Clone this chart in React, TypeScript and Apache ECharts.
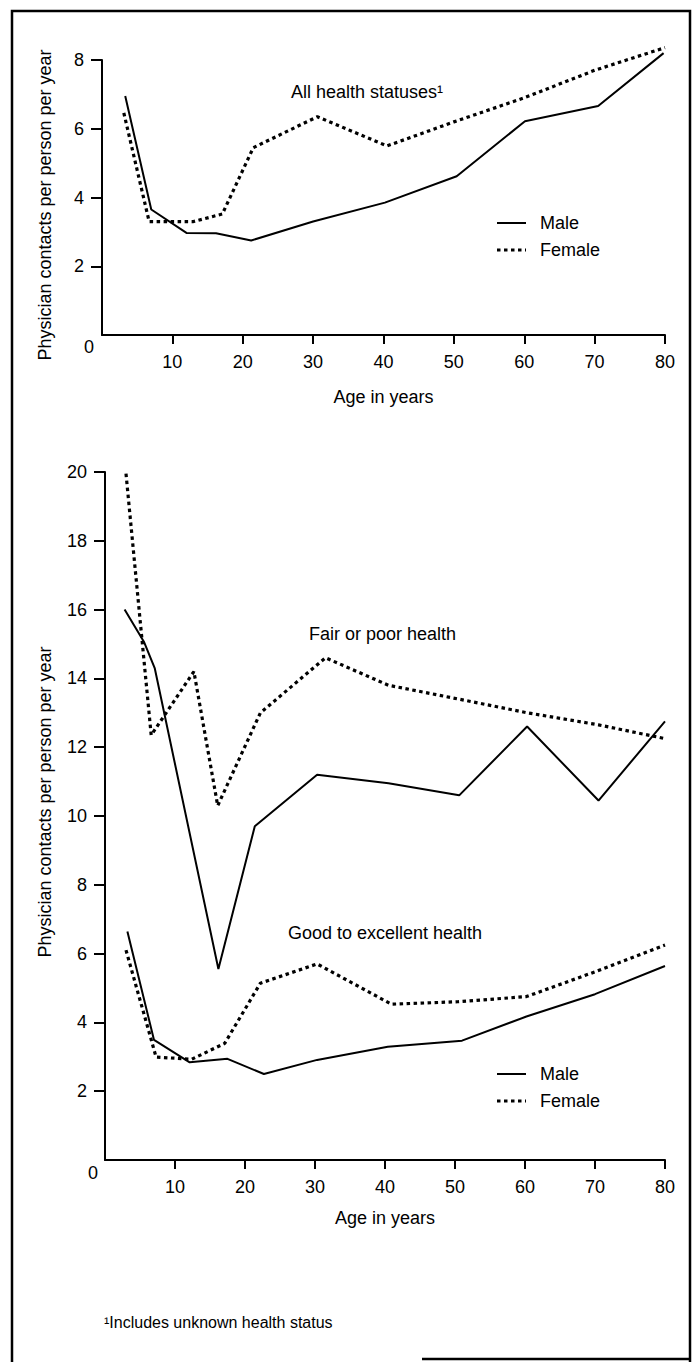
import React, { useEffect, useRef } from "react";
import * as echarts from "echarts";

const FONT = "'Liberation Sans', Arial, Helvetica, sans-serif";

// Tick labels
const xTicks = [10, 20, 30, 40, 50, 60, 70, 80];
const yTicksTop = [2, 4, 6, 8];
const yTicksBottom = [2, 4, 6, 8, 10, 12, 14, 16, 18, 20];
const legendNames = ["Male", "Female"];

// All health statuses
const allMaleAges = [3.3, 7, 12, 16.2, 21.2, 30, 40.2, 50.4, 60.1, 70.5, 79.8];
const allMaleValues = [6.95, 3.65, 2.97, 2.96, 2.75, 3.3, 3.85, 4.62, 6.22, 6.66, 8.2];
const allFemaleAges = [3.1, 6.7, 13, 17.1, 21.5, 30.6, 40.5, 50, 60, 70, 80];
const allFemaleValues = [6.46, 3.3, 3.3, 3.52, 5.45, 6.35, 5.5, 6.2, 6.9, 7.7, 8.36];

// Fair or poor health
const fairMaleAges = [2.8, 5.6, 7.1, 16.2, 21.4, 30.3, 40.5, 50.6, 60.3, 70.5, 80];
const fairMaleValues = [16.0, 15.05, 14.3, 5.55, 9.7, 11.2, 10.95, 10.6, 12.6, 10.45, 12.75];
const fairFemaleAges = [3.0, 6.6, 12.7, 16.1, 22.2, 31.5, 40.5, 50.5, 60.3, 70.5, 80];
const fairFemaleValues = [19.95, 12.35, 14.2, 10.3, 13.0, 14.6, 13.8, 13.4, 13.0, 12.65, 12.25];

// Good to excellent health
const goodMaleAges = [3.2, 7.0, 12.1, 17.5, 22.7, 30.3, 40.4, 51.0, 60.2, 70, 80];
const goodMaleValues = [6.64, 3.49, 2.84, 2.94, 2.5, 2.91, 3.29, 3.47, 4.17, 4.82, 5.64];
const goodFemaleAges = [3.0, 7.3, 12.4, 17.1, 22.2, 30.3, 40.9, 50.4, 60.2, 70, 80];
const goodFemaleValues = [6.1, 2.99, 2.93, 3.39, 5.14, 5.7, 4.53, 4.6, 4.75, 5.47, 6.25];

const pairs = (a: number[], v: number[]) => a.map((x, i) => [x, v[i]]);

const solid = { color: "#000", width: 2, type: "solid" as const };
const dotted = { color: "#000", width: 3.2, type: [3.5, 3.5] as any };

function lineSeries(name: string, data: number[][], idx: number, style: any) {
  return {
    type: "line",
    name,
    xAxisIndex: idx,
    yAxisIndex: idx,
    data,
    symbol: "none",
    showSymbol: false,
    clip: false,
    lineStyle: style,
    itemStyle: { color: "#000" },
    silent: true,
  };
}

function xAxis(gridIndex: number, nameGap: number) {
  return {
    type: "value",
    gridIndex,
    min: 0,
    max: 80,
    interval: 10,
    axisLine: { show: true, onZero: false, lineStyle: { color: "#000", width: 2 } },
    axisTick: { show: true, customValues: xTicks, length: 9, lineStyle: { color: "#000", width: 2 } },
    axisLabel: { customValues: xTicks, margin: 18, fontSize: 18, color: "#000", fontFamily: FONT },
    splitLine: { show: false },
    name: "Age in years",
    nameLocation: "middle",
    nameGap,
    nameTextStyle: { fontSize: 18, color: "#000", fontFamily: FONT },
  };
}

function yAxis(gridIndex: number, max: number, ticks: number[]) {
  return {
    type: "value",
    gridIndex,
    min: 0,
    max,
    interval: 2,
    axisLine: { show: true, onZero: false, lineStyle: { color: "#000", width: 2 } },
    axisTick: { show: true, customValues: ticks, length: 11, lineStyle: { color: "#000", width: 2 } },
    axisLabel: { customValues: ticks, margin: 18, fontSize: 18, color: "#000", fontFamily: FONT },
    splitLine: { show: false },
  };
}

const txt = (text: string, x: number, y: number, extra: any = {}) => ({
  type: "text",
  x,
  y,
  silent: true,
  style: {
    text,
    fill: "#000",
    font: `18px ${FONT}`,
    textAlign: "left",
    textVerticalAlign: "middle",
    ...extra,
  },
});

function legendGraphics(y: number) {
  return [
    {
      type: "line",
      silent: true,
      shape: { x1: 497, y1: y, x2: 526, y2: y },
      style: { stroke: "#000", lineWidth: 2 },
    },
    {
      type: "line",
      silent: true,
      shape: { x1: 497, y1: y + 27, x2: 526, y2: y + 27 },
      style: { stroke: "#000", lineWidth: 3.2, lineDash: [3.5, 3.5] },
    },
    txt(legendNames[0], 540, y),
    txt(legendNames[1], 540, y + 27),
  ];
}

export default function App() {
  const ref = useRef<HTMLDivElement>(null);
  useEffect(() => {
    if (!ref.current) return;
    const chart = echarts.init(ref.current, undefined, { renderer: "svg" });
    chart.setOption({
      animation: false,
      backgroundColor: "#fff",
      grid: [
        { left: 102, top: 60, width: 563, height: 275 },
        { left: 105, top: 472, width: 560, height: 688 },
      ],
      xAxis: [xAxis(0, 53), xAxis(1, 49)],
      yAxis: [yAxis(0, 8, yTicksTop), yAxis(1, 20, yTicksBottom)],
      series: [
        lineSeries("Male", pairs(allMaleAges, allMaleValues), 0, solid),
        lineSeries("Female", pairs(allFemaleAges, allFemaleValues), 0, dotted),
        lineSeries("Male", pairs(fairMaleAges, fairMaleValues), 1, solid),
        lineSeries("Female", pairs(fairFemaleAges, fairFemaleValues), 1, dotted),
        lineSeries("Male", pairs(goodMaleAges, goodMaleValues), 1, solid),
        lineSeries("Female", pairs(goodFemaleAges, goodFemaleValues), 1, dotted),
      ],
      graphic: [
        {
          type: "polyline",
          silent: true,
          shape: { points: [[12, 1362], [12, 11], [690, 11], [690, 1362]] },
          style: { stroke: "#000", lineWidth: 2.5, fill: "none" },
        },
        {
          type: "line",
          silent: true,
          shape: { x1: 422, y1: 1359, x2: 690, y2: 1359 },
          style: { stroke: "#000", lineWidth: 2.5 },
        },
        ...legendGraphics(223),
        ...legendGraphics(1074),
        txt("All health statuses¹", 291, 92),
        txt("Fair or poor health", 309, 634),
        txt("Good to excellent health", 288, 933),
        txt("¹Includes unknown health status", 104, 1322, { font: `16px ${FONT}` }),
        txt("0", 89, 347, { textAlign: "center" }),
        txt("0", 93, 1173, { textAlign: "center" }),
        {
          type: "text",
          x: 45,
          y: 205,
          rotation: Math.PI / 2,
          silent: true,
          style: {
            text: "Physician contacts per person per year",
            fill: "#000",
            font: `18px ${FONT}`,
            textAlign: "center",
            textVerticalAlign: "middle",
          },
        },
        {
          type: "text",
          x: 45,
          y: 802,
          rotation: Math.PI / 2,
          silent: true,
          style: {
            text: "Physician contacts per person per year",
            fill: "#000",
            font: `18px ${FONT}`,
            textAlign: "center",
            textVerticalAlign: "middle",
          },
        },
      ],
    });
    return () => chart.dispose();
  }, []);
  return (
    <div
      ref={ref}
      style={{ position: "absolute", left: 0, top: 0, width: 697, height: 1362, background: "#fff" }}
    />
  );
}
